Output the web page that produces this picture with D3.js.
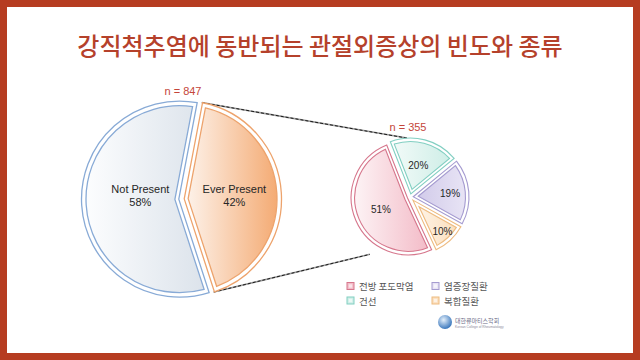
<!DOCTYPE html>
<html><head><meta charset="utf-8">
<script src="https://cdn.jsdelivr.net/npm/d3@7"></script>
<style>html,body{margin:0;padding:0;background:#fff}svg{display:block}</style>
</head><body><svg id="c" width="640" height="360"></svg>
<script>
const title = "강직척추염에 동반되는 관절외증상의 빈도와 종류";
const mainLabels = ["Not Present", "Ever Present"];
const mainValues = [58, 42];
const mainN = 847;
const subLabels = ["전방 포도막염", "건선", "염증장질환", "복합질환"];
const subValues = [51, 20, 19, 10];
const subN = 355;
const logoTitle = "대한류마티스학회";
const logoSub = "Korean College of Rheumatology";

const W = 640, H = 360, deg = Math.PI / 180;
const svg = d3.select("#c");
const defs = svg.append("defs");

// frame
svg.append("rect").attr("width", W).attr("height", H).attr("fill", "#b63c21");
svg.append("rect").attr("x", 7).attr("y", 7).attr("width", W - 14).attr("height", H - 14).attr("fill", "#fff");

svg.append("text").attr("x", 320).attr("y", 55).attr("text-anchor", "middle")
  .attr("font-family", "'Noto Sans CJK KR'").attr("font-size", 24).attr("font-weight", 500)
  .attr("fill", "#b5412b").text(title);

function grad(id, stops) {
  const g = defs.append("linearGradient").attr("id", id).attr("x1", 0).attr("y1", 0).attr("x2", 1).attr("y2", 0);
  stops.forEach(([o, c]) => g.append("stop").attr("offset", o).attr("stop-color", c));
}
const mainStyle = [
  { stroke: "#88aad6", g: [[0, "#fcfdfe"], [1, "#dce3eb"]] },
  { stroke: "#eda36c", g: [[0, "#fdf1e8"], [1, "#f4ab74"]] }
];
const subStyle = [
  { stroke: "#d6768c", g: [[0, "#fdf3f5"], [1, "#f3bcc8"]] },
  { stroke: "#82cfc2", g: [[0, "#f1faf8"], [1, "#cfeee7"]] },
  { stroke: "#a59bd0", g: [[0, "#d2cbea"], [1, "#e8e4f5"]] },
  { stroke: "#eebb80", g: [[0, "#fef3e6"], [1, "#fbdfbd"]] }
];
mainStyle.forEach((s, i) => grad("gm" + i, s.g));
subStyle.forEach((s, i) => grad("gs" + i, s.g));

function polar(a, r) { return [r * Math.sin(a), -r * Math.cos(a)]; }
function insetSlice(a0, a1, R, d) {
  const p = d3.path();
  const mid = (a0 + a1) / 2, h = d / Math.sin((a1 - a0) / 2);
  const A = polar(mid, h);
  function hit(a) {
    const u = [Math.sin(a), -Math.cos(a)];
    const b = A[0] * u[0] + A[1] * u[1];
    const c = A[0] * A[0] + A[1] * A[1] - R * R;
    const t = -b + Math.sqrt(b * b - c);
    return [A[0] + t * u[0], A[1] + t * u[1]];
  }
  const P0 = hit(a0), P1 = hit(a1);
  p.moveTo(A[0], A[1]);
  p.lineTo(P0[0], P0[1]);
  p.arc(0, 0, R, Math.atan2(P0[1], P0[0]), Math.atan2(P1[1], P1[0]), false);
  p.closePath();
  return p.toString();
}

function drawPie(values, styles, gid, cx, cy, R, explode, start, ring, sw) {
  const arcs = d3.pie().sort(null).value(d => d).startAngle(start).endAngle(start + 2 * Math.PI)(values);
  const g = svg.append("g").attr("transform", `translate(${cx},${cy})`);
  arcs.forEach((a, i) => {
    const mid = (a.startAngle + a.endAngle) / 2;
    const off = polar(mid, explode);
    const s = g.append("g").attr("transform", `translate(${off[0]},${off[1]})`);
    s.append("path").attr("d", insetSlice(a.startAngle, a.endAngle, R, 0.7))
      .attr("fill", "#fff").attr("stroke", styles[i].stroke).attr("stroke-width", sw);
    s.append("path").attr("d", insetSlice(a.startAngle, a.endAngle, R - ring, ring))
      .attr("fill", `url(#${gid}${i})`).attr("stroke", styles[i].stroke).attr("stroke-width", sw);
  });
  return arcs;
}

const M = { cx: 181.5, cy: 199, R: 98, ex: 2 };
const S = { cx: 410, cy: 197, R: 57, ex: 2 };

const mainArcs = d3.pie().sort(null).value(d => d).startAngle(162 * deg).endAngle(162 * deg + 2 * Math.PI)(mainValues);

// connector lines (from "Ever Present" slice edges to the detail pie)
const ep = mainArcs[1];
const epOff = polar((ep.startAngle + ep.endAngle) / 2, M.ex);
const topStart = polar(ep.startAngle, M.R), botStart = polar(ep.endAngle, M.R);
const topEnd = polar(-3 * deg, S.R + 2), botEnd = polar(215 * deg, S.R + 13);
const lines = [
  [[M.cx + epOff[0] + topStart[0], M.cy + epOff[1] + topStart[1]], [S.cx + topEnd[0], S.cy + topEnd[1]]],
  [[M.cx + epOff[0] + botStart[0], M.cy + epOff[1] + botStart[1]], [S.cx + botEnd[0], S.cy + botEnd[1]]]
];
lines.forEach(l => {
  svg.append("line").attr("x1", l[0][0]).attr("y1", l[0][1]).attr("x2", l[1][0]).attr("y2", l[1][1])
    .attr("stroke", "#9a9a9a").attr("stroke-width", 1.6);
  svg.append("line").attr("x1", l[0][0]).attr("y1", l[0][1]).attr("x2", l[1][0]).attr("y2", l[1][1])
    .attr("stroke", "#1a1a1a").attr("stroke-width", 1).attr("stroke-dasharray", "3,2");
});

drawPie(mainValues, mainStyle, "gm", M.cx, M.cy, M.R, M.ex, 162 * deg, 4.5, 1.3);
const subArcs = drawPie(subValues, subStyle, "gs", S.cx, S.cy, S.R, S.ex, 155 * deg, 3.5, 1.1);

// main labels
const mainK = [0.4, 0.52];
mainArcs.forEach((a, i) => {
  const mid = (a.startAngle + a.endAngle) / 2;
  const x = M.cx + polar(mid, mainK[i] * M.R + M.ex)[0];
  const y = M.cy - 4;
  const t = svg.append("text").attr("text-anchor", "middle").attr("font-family", "'Liberation Sans', Arial")
    .attr("font-size", 11).attr("fill", "#262626");
  t.append("tspan").attr("x", x).attr("y", y - 6.5).attr("dominant-baseline", "central").text(mainLabels[i]);
  t.append("tspan").attr("x", x).attr("y", y + 6.5).attr("dominant-baseline", "central").text(mainValues[i] + "%");
});
svg.append("text").attr("x", M.cx + 1.5).attr("y", M.cy - M.R - 10).attr("text-anchor", "middle")
  .attr("dominant-baseline", "central").attr("font-family", "'Liberation Sans', Arial").attr("font-size", 11)
  .attr("fill", "#c4453a").text("n = " + mainN);

// sub labels
const subK = [0.52, 0.545, 0.67, 0.8];
subArcs.forEach((a, i) => {
  const mid = (a.startAngle + a.endAngle) / 2;
  const p = polar(mid, subK[i] * S.R + S.ex);
  svg.append("text").attr("x", S.cx + p[0]).attr("y", S.cy + p[1]).attr("text-anchor", "middle")
    .attr("dominant-baseline", "central").attr("font-family", "'Liberation Sans', Arial").attr("font-size", 10)
    .attr("fill", "#262626").text(subValues[i] + "%");
});
svg.append("text").attr("x", S.cx - 2).attr("y", S.cy - S.R - 13).attr("text-anchor", "middle")
  .attr("dominant-baseline", "central").attr("font-family", "'Liberation Sans', Arial").attr("font-size", 11)
  .attr("fill", "#c4453a").text("n = " + subN);

// legend
const lgX = [347, 432], lgY = [286, 300.5];
subLabels.forEach((lab, i) => {
  const col = Math.floor(i / 2), row = i % 2;
  const x = lgX[col], y = lgY[row];
  svg.append("rect").attr("x", x).attr("y", y - 3.5).attr("width", 7).attr("height", 7)
    .attr("fill", subStyle[i].g[1][1]).attr("stroke", subStyle[i].stroke).attr("stroke-width", 1);
  svg.append("rect").attr("x", x + 1.8).attr("y", y - 1.7).attr("width", 3.4).attr("height", 3.4)
    .attr("fill", "#fff").attr("opacity", 0.6);
  svg.append("text").attr("x", x + 12).attr("y", y).attr("dominant-baseline", "central")
    .attr("font-family", "'Noto Sans CJK KR'").attr("font-size", 9.5).attr("fill", "#555").text(lab);
});

// logo
const rg = defs.append("radialGradient").attr("id", "globe").attr("cx", 0.4).attr("cy", 0.35).attr("r", 0.7);
rg.append("stop").attr("offset", 0).attr("stop-color", "#e4f0fb");
rg.append("stop").attr("offset", 1).attr("stop-color", "#2f6fb8");
svg.append("circle").attr("cx", 445).attr("cy", 322).attr("r", 7).attr("fill", "url(#globe)");
svg.append("text").attr("x", 455).attr("y", 320.5).attr("dominant-baseline", "central")
  .attr("font-family", "'Noto Sans CJK KR'").attr("font-size", 6).attr("fill", "#6a6a86").text(logoTitle);
svg.append("text").attr("x", 455).attr("y", 326.8).attr("dominant-baseline", "central")
  .attr("font-family", "'Liberation Sans', Arial").attr("font-size", 3.3).attr("fill", "#8a8a9a").text(logoSub);
</script></body></html>
